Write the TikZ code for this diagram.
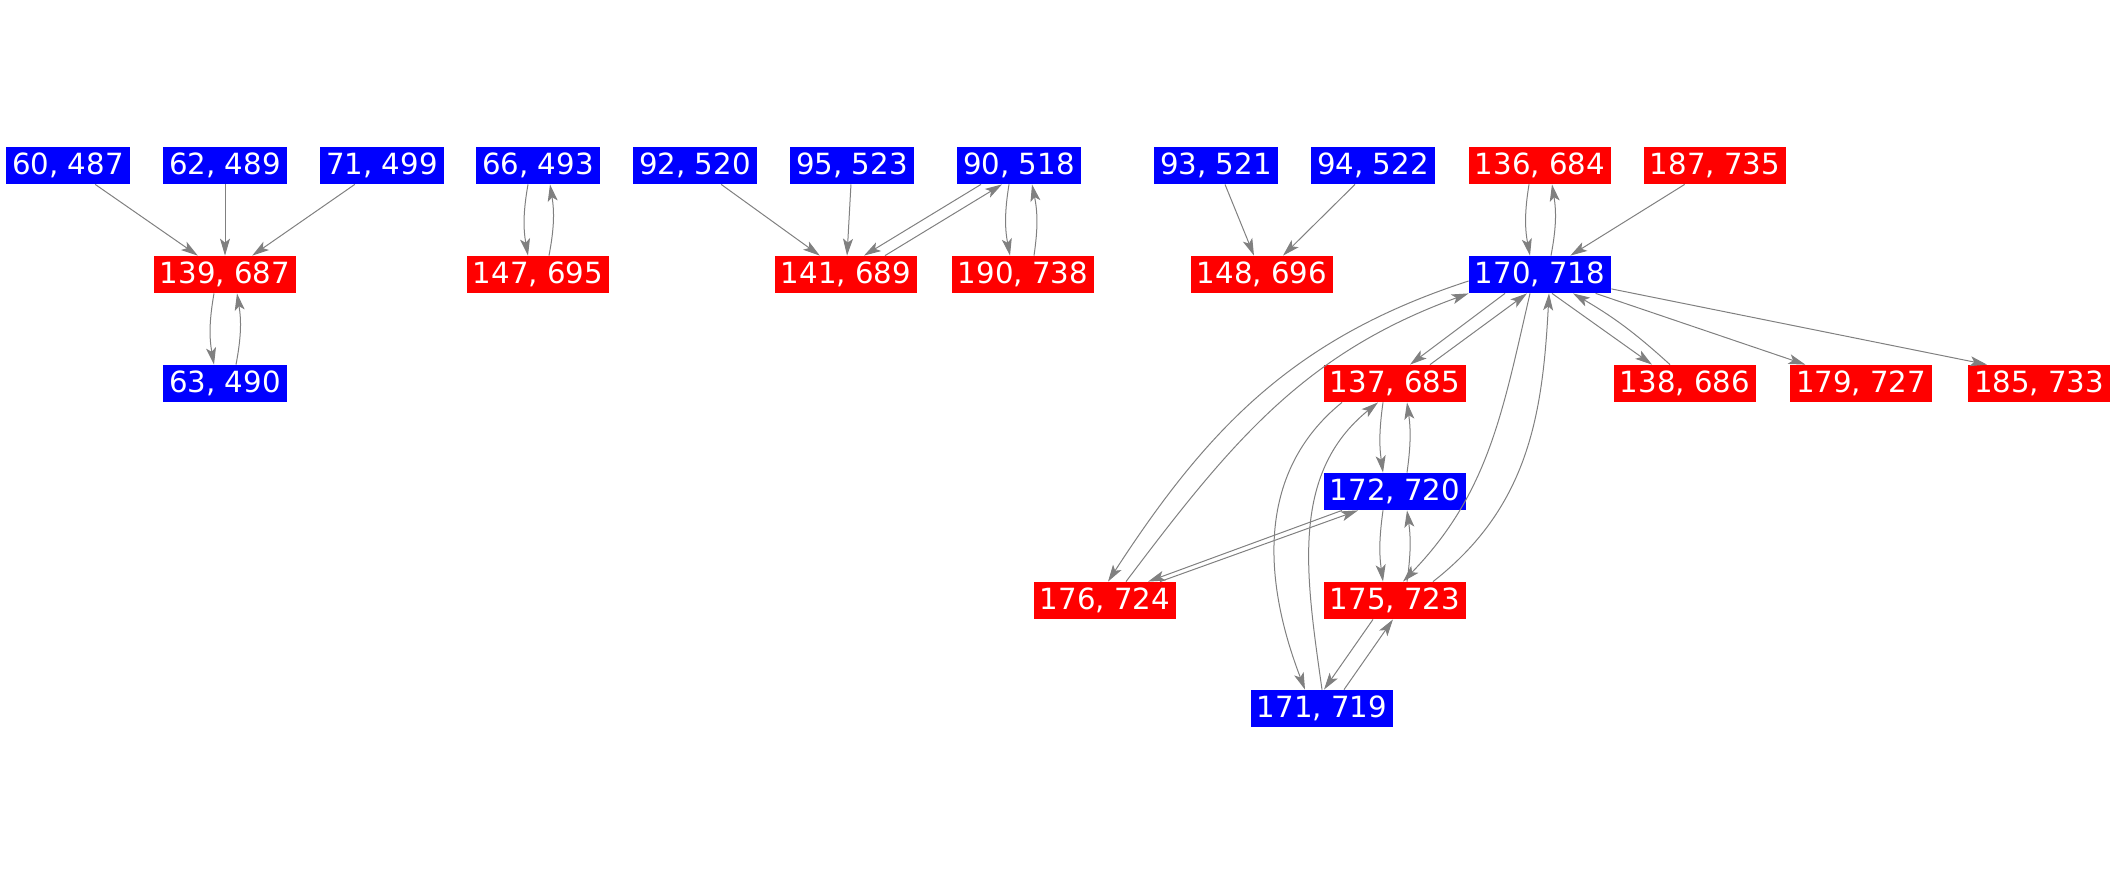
\documentclass[tikz,border=0pt]{standalone}
\usepackage{fontspec}
\setmainfont{DejaVu Sans}
\usetikzlibrary{calc}
\usetikzlibrary{arrows.meta}
\tikzset{
  pairbox/.style={fill=#1, draw=none, text=white, inner xsep=3pt, inner ysep=0pt,
    minimum height=18.5pt, font=\fontsize{14.6}{17}\selectfont},
  link/.style={draw=gray, line width=0.5pt, -{Stealth[length=8.5pt,width=5pt,inset=2pt]}},
}
\newcommand{\pairnode}[5]{\node[pairbox=#4] (#1) at ( #2 , #3 ) {#5};}

\begin{document}
\begin{tikzpicture}[x=0.5pt,y=-0.5pt]
\useasboundingbox (0,0) rectangle (2117,875);
%nodes
\pairnode{n60}{68}{165.5}{blue}{60, 487}
\pairnode{n62}{225}{165.5}{blue}{62, 489}
\pairnode{n71}{382}{165.5}{blue}{71, 499}
\pairnode{n66}{538}{165.5}{blue}{66, 493}
\pairnode{n92}{695}{165.5}{blue}{92, 520}
\pairnode{n95}{852}{165.5}{blue}{95, 523}
\pairnode{n90}{1019}{165.5}{blue}{90, 518}
\pairnode{n93}{1216}{165.5}{blue}{93, 521}
\pairnode{n94}{1373}{165.5}{blue}{94, 522}
\pairnode{n136}{1540}{165.5}{red}{136, 684}
\pairnode{n187}{1715}{165.5}{red}{187, 735}

\pairnode{n139}{225}{274.5}{red}{139, 687}
\pairnode{n147}{538}{274.5}{red}{147, 695}
\pairnode{n141}{846}{274.5}{red}{141, 689}
\pairnode{n190}{1023}{274.5}{red}{190, 738}
\pairnode{n148}{1262}{274.5}{red}{148, 696}
\pairnode{n170}{1540}{274.5}{blue}{170, 718}

\pairnode{n63}{225}{383.5}{blue}{63, 490}
\pairnode{n137}{1395}{383.5}{red}{137, 685}
\pairnode{n138}{1685}{383.5}{red}{138, 686}
\pairnode{n179}{1861}{383.5}{red}{179, 727}
\pairnode{n185}{2039}{383.5}{red}{185, 733}

\pairnode{n172}{1395}{491.5}{blue}{172, 720}
\pairnode{n176}{1105}{600.5}{red}{176, 724}
\pairnode{n175}{1395}{600.5}{red}{175, 723}
\pairnode{n171}{1322}{708.5}{blue}{171, 719}

%edges
\draw[link] (n60) -- (n139);
\draw[link] (n62) -- (n139);
\draw[link] (n71) -- (n139);
\draw[link] ($(n139.south)+(-11,0)$) to[bend right=10] ($(n63.north)+(-11,0)$);
\draw[link] ($(n63.north)+(11,0)$) to[bend right=10] ($(n139.south)+(12,0)$);

\draw[link] ($(n66.south)+(-10,0)$) to[bend right=10] ($(n147.north)+(-10,0)$);
\draw[link] ($(n147.north)+(11,0)$) to[bend right=10] ($(n66.south)+(12,0)$);

\draw[link] (n92) -- (n141);
\draw[link] (n95) -- (n141);
\draw[link] ($(n90.south)+(-38,0)$) -- ($(n141.north)+(18,0)$);
\draw[link] ($(n141.north)+(39,0)$) -- ($(n90.south)+(-17,0)$);
\draw[link] ($(n90.south)+(-10,0)$) to[bend right=10] ($(n190.north)+(-13,0)$);
\draw[link] ($(n190.north)+(11,0)$) to[bend right=10] ($(n90.south)+(13,0)$);

\draw[link] ($(n93.south)+(9,0)$) -- ($(n148.north)+(-8,0)$);
\draw[link] ($(n94.south)+(-18,0)$) -- ($(n148.north)+(21,0)$);

\draw[link] ($(n136.south)+(-11,0)$) to[bend right=10] ($(n170.north)+(-10,0)$);
\draw[link] ($(n170.north)+(11,0)$) to[bend right=10] ($(n136.south)+(12,0)$);
\draw[link] (n187) -- (n170);

% out of 170, 718
\draw[link] ($(n170.south)+(-35,0)$) -- ($(n137.north)+(15,0)$);
\draw[link] ($(n137.north)+(35,0)$) -- ($(n170.south)+(-13,0)$);
\draw[link] ($(n170.south)+(12,0)$) -- ($(n138.north)+(-33,0)$);
\draw[link] ($(n138.north)+(-15,0)$) to[bend right=6] ($(n170.south)+(33,0)$);
\draw[link] (n170) -- (n179);
\draw[link] (n170) -- ($(n185.north)+(-52,0)$);
\draw[link] ($(n170.west)+(0,6.5)$) to[out=198,in=57] ($(n176.north)+(3,0)$);
\draw[link] ($(n176.north)+(21,0)$) to[out=53,in=200] (n170.south west);
\draw[link] ($(n170.south)+(-10,0)$) to[out=257,in=46] ($(n175.north)+(8,0)$);
\draw[link] ($(n175.north)+(38,0)$) to[out=38,in=267] ($(n170.south)+(9,0)$);

% lower cluster
\draw[link] ($(n137.south)+(-12,0)$) to[bend right=8] ($(n172.north)+(-12,0)$);
\draw[link] ($(n172.north)+(12,0)$) to[bend right=8] ($(n137.south)+(12,0)$);
\draw[link] ($(n172.south)+(-12,0)$) to[bend right=8] ($(n175.north)+(-12,0)$);
\draw[link] ($(n175.north)+(12,0)$) to[bend right=8] ($(n172.south)+(12,0)$);
\draw[link] ($(n172.south)+(-53,0)$) -- ($(n176.north)+(43,0)$);
\draw[link] ($(n176.north)+(55,0)$) -- ($(n172.south)+(-37,0)$);
\draw[link] ($(n137.south)+(-53,0)$) to[out=219,in=111] ($(n171.north)+(-17,0)$);
\draw[link] (n171.north) to[out=98,in=219] ($(n137.south)+(-17,0)$);
\draw[link] ($(n175.south)+(-22,0)$) -- ($(n171.north)+(2,0)$);
\draw[link] ($(n171.north)+(22,0)$) -- ($(n175.south)+(-2,0)$);

\end{tikzpicture}
\end{document}
